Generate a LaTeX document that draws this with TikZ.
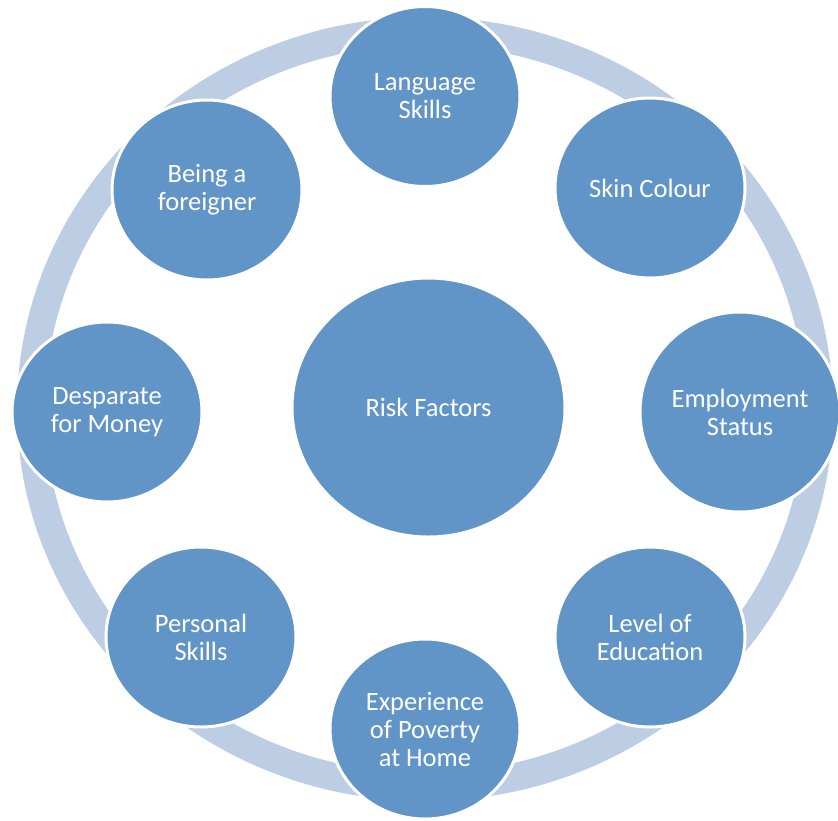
\documentclass[tikz,border=0pt]{standalone}
\usepackage{fontspec}
\setmainfont{Carlito}
\usetikzlibrary{shapes.geometric}
\definecolor{bubble}{RGB}{98,149,199}
\definecolor{ringc}{RGB}{189,205,227}
\tikzset{
  bub/.style={ellipse, fill=bubble, draw=white, line width=3pt, inner sep=0pt,
    text=white, align=center, font=\fontsize{26.5}{28}\selectfont},
  sat/.style={bub, minimum width=190pt, minimum height=180pt},
  ringband/.style={draw=ringc, line width=28pt}
}
\begin{document}
\begin{tikzpicture}[x=1pt,y=-1pt]
\useasboundingbox (0,0) rectangle (838,820);
\draw[ringband] (425,409) ellipse [x radius=394, y radius=378];
\node[sat] (lang) at (425,96.5) {Language\\Skills};
\node[sat] (skin) at (650,188) {Skin Colour};
\node[bub, minimum width=200pt, minimum height=200pt] (emp) at (740,412) {Employment\\Status};
\node[sat] (edu) at (650,637) {Level of\\Education};
\node[sat] (pov) at (425,729) {Experience\\of Poverty\\at Home};
\node[sat] (pers) at (201,637) {Personal\\Skills};
\node[sat] (desp) at (107,412) {Desparate\\for Money};
\node[sat] (forn) at (207,190) {Being a\\foreigner};
\node[bub, minimum width=273pt, minimum height=259pt] (risk) at (428.5,407.5) {Risk Factors};
\end{tikzpicture}
\end{document}
